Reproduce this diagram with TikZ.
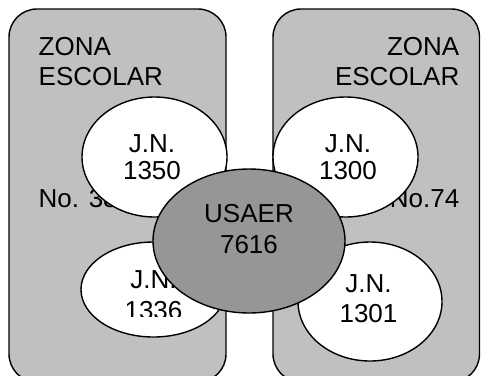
\documentclass[tikz,border=0pt]{standalone}
\usepackage{fontspec}
\setmainfont{Liberation Sans}
\usetikzlibrary{shapes.geometric}
\definecolor{zonegray}{HTML}{C0C0C0}
\definecolor{usaergray}{HTML}{969696}
\begin{document}
\begin{tikzpicture}[x=1pt,y=-1pt,line width=1.4pt,
  zone/.style={draw=black,fill=zonegray,rounded corners=28pt,inner sep=0pt},
  jn/.style={ellipse,draw=black,fill=white,inner sep=0pt},
  usaer/.style={ellipse,draw=black,fill=usaergray,inner sep=0pt},
  lbl/.style={inner sep=0pt,font=\fontsize{26}{#1}\selectfont},
  lbl/.default=30pt]
\useasboundingbox (0,0) rectangle (481,375);
% zones
\node[zone,minimum width=217pt,minimum height=373pt] (zl) at (117.5,195.5) {};
\node[zone,minimum width=206.5pt,minimum height=373pt] (zr) at (376.25,195.5) {};
% zone texts
\node[lbl=30pt,anchor=north west,align=left] (zlt) at (38,36.5) {ZONA\\ESCOLAR};
\node[lbl=30pt,anchor=north east,align=right] (zrt) at (460,36.5) {ZONA\\ESCOLAR};
\node[lbl,anchor=base west] (zln) at (38,207) {No. 38};
\node[lbl,anchor=base east] (zrn) at (460,207) {No.74};
% kindergartens
\node[jn,minimum width=145pt,minimum height=120pt] (e1350) at (154.5,157) {};
\node[lbl=27pt,anchor=north,align=center] (t1350) at (152,134) {J.N.\\1350};
\node[jn,minimum width=145pt,minimum height=120pt] (e1300) at (345.5,157) {};
\node[lbl=27pt,anchor=north,align=center] (t1300) at (348,134) {J.N.\\1300};
\node[jn,minimum width=145pt,minimum height=95pt] (e1336) at (153.5,289.5) {};
\begin{scope}
  \clip (80,240) rectangle (230,316);
  \node[lbl=31pt,anchor=north,align=center] (t1336) at (153.5,269.5) {J.N.\\1336};
\end{scope}
\node[jn,minimum width=144pt,minimum height=119pt] (e1301) at (370,301.5) {};
\node[lbl=30pt,anchor=north,align=center] (t1301) at (368.5,273.5) {J.N.\\1301};
% USAER
\node[usaer,minimum width=192pt,minimum height=144pt] (eU) at (249,241) {};
\node[lbl=31pt,anchor=north,align=center] (tU) at (249,204) {USAER\\7616};
\end{tikzpicture}
\end{document}
